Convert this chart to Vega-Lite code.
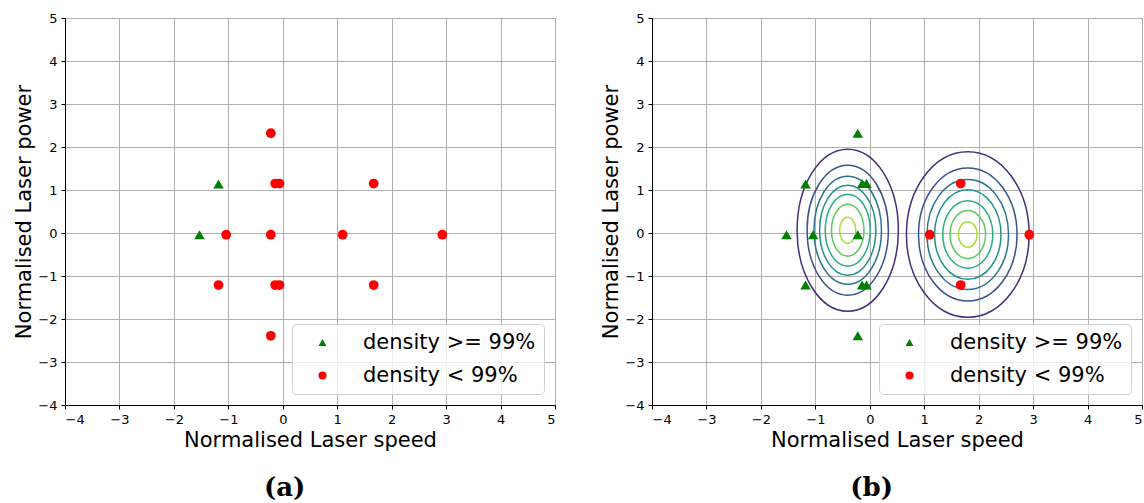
{
  "$schema": "https://vega.github.io/schema/vega-lite/v6.json",
  "padding": {"left": 13, "top": 11, "right": 0, "bottom": 0},
  "background": "white",
  "datasets": {
    "points": [
      {"panel": "a", "x": -0.22, "y": 2.32, "cls": "density < 99%"},
      {"panel": "a", "x": -1.18, "y": 1.14, "cls": "density >= 99%"},
      {"panel": "a", "x": -0.14, "y": 1.15, "cls": "density < 99%"},
      {"panel": "a", "x": -0.06, "y": 1.15, "cls": "density < 99%"},
      {"panel": "a", "x": 1.67, "y": 1.15, "cls": "density < 99%"},
      {"panel": "a", "x": -1.53, "y": -0.04, "cls": "density >= 99%"},
      {"panel": "a", "x": -1.04, "y": -0.04, "cls": "density < 99%"},
      {"panel": "a", "x": -0.22, "y": -0.04, "cls": "density < 99%"},
      {"panel": "a", "x": 1.1, "y": -0.04, "cls": "density < 99%"},
      {"panel": "a", "x": 2.93, "y": -0.04, "cls": "density < 99%"},
      {"panel": "a", "x": -1.18, "y": -1.21, "cls": "density < 99%"},
      {"panel": "a", "x": -0.14, "y": -1.21, "cls": "density < 99%"},
      {"panel": "a", "x": -0.06, "y": -1.21, "cls": "density < 99%"},
      {"panel": "a", "x": 1.67, "y": -1.21, "cls": "density < 99%"},
      {"panel": "a", "x": -0.22, "y": -2.39, "cls": "density < 99%"},
      {"panel": "b", "x": -0.22, "y": 2.32, "cls": "density >= 99%"},
      {"panel": "b", "x": -1.18, "y": 1.14, "cls": "density >= 99%"},
      {"panel": "b", "x": -0.14, "y": 1.15, "cls": "density >= 99%"},
      {"panel": "b", "x": -0.06, "y": 1.15, "cls": "density >= 99%"},
      {"panel": "b", "x": 1.67, "y": 1.15, "cls": "density < 99%"},
      {"panel": "b", "x": -1.53, "y": -0.04, "cls": "density >= 99%"},
      {"panel": "b", "x": -1.04, "y": -0.04, "cls": "density >= 99%"},
      {"panel": "b", "x": -0.22, "y": -0.04, "cls": "density >= 99%"},
      {"panel": "b", "x": 1.1, "y": -0.04, "cls": "density < 99%"},
      {"panel": "b", "x": 2.93, "y": -0.04, "cls": "density < 99%"},
      {"panel": "b", "x": -1.18, "y": -1.21, "cls": "density >= 99%"},
      {"panel": "b", "x": -0.14, "y": -1.21, "cls": "density >= 99%"},
      {"panel": "b", "x": -0.06, "y": -1.21, "cls": "density >= 99%"},
      {"panel": "b", "x": 1.67, "y": -1.21, "cls": "density < 99%"},
      {"panel": "b", "x": -0.22, "y": -2.39, "cls": "density >= 99%"}
    ],
    "contours": [
      {"family": "L", "cx": -0.405, "cy": 0.065, "ry": 1.884, "level": 1},
      {"family": "L", "cx": -0.405, "cy": 0.065, "ry": 1.512, "level": 2},
      {"family": "L", "cx": -0.405, "cy": 0.065, "ry": 1.256, "level": 3},
      {"family": "L", "cx": -0.405, "cy": 0.065, "ry": 1.047, "level": 4},
      {"family": "L", "cx": -0.405, "cy": 0.065, "ry": 0.837, "level": 5},
      {"family": "L", "cx": -0.405, "cy": 0.065, "ry": 0.605, "level": 6},
      {"family": "L", "cx": -0.405, "cy": 0.065, "ry": 0.302, "level": 7},
      {"family": "R", "cx": 1.8, "cy": -0.035, "ry": 1.926, "level": 1},
      {"family": "R", "cx": 1.8, "cy": -0.035, "ry": 1.547, "level": 2},
      {"family": "R", "cx": 1.8, "cy": -0.035, "ry": 1.279, "level": 3},
      {"family": "R", "cx": 1.8, "cy": -0.035, "ry": 1.042, "level": 4},
      {"family": "R", "cx": 1.8, "cy": -0.035, "ry": 0.786, "level": 5},
      {"family": "R", "cx": 1.8, "cy": -0.035, "ry": 0.558, "level": 6},
      {"family": "R", "cx": 1.8, "cy": -0.035, "ry": 0.295, "level": 7}
    ]
  },
  "config": {
    "view": {"stroke": "black", "strokeWidth": 1},
    "axis": {
      "labelFont": "DejaVu Sans", "labelFontSize": 13, "labelColor": "black", "format": "d",
      "titleFont": "DejaVu Sans", "titleFontSize": 21, "titleFontWeight": "normal", "titleColor": "black",
      "domainColor": "black", "tickColor": "black", "tickSize": 4, "labelPadding": 4, "titlePadding": 3,
      "gridColor": "#b0b0b0", "gridWidth": 1, "gridOpacity": 1
    },
    "legend": {
      "orient": "bottom-right", "offset": 11, "labelFont": "DejaVu Sans", "labelFontSize": 21, "labelColor": "black", "labelLimit": 400,
      "symbolSize": 64, "strokeColor": "#d0d0d0", "fillColor": "rgba(255,255,255,0.8)", "padding": 8,
      "cornerRadius": 4, "rowPadding": 11, "labelOffset": 30, "symbolOffset": 12, "symbolOpacity": 1
    },
    "title": {"font": "DejaVu Serif", "fontWeight": "bold", "fontSize": 26, "color": "black", "orient": "bottom", "anchor": "middle", "frame": "bounds", "offset": 25}
  },
  "spacing": 44,
  "resolve": {
    "scale": {"color": "independent", "shape": "independent"},
    "legend": {"color": "independent", "shape": "independent"}
  },
  "hconcat": [
    {
      "width": 490, "height": 387,
      "title": {"text": "(a)"},
      "layer": [
        {
          "data": {"name": "points"},
          "transform": [{"filter": "datum.panel === 'a' && datum.cls === 'density >= 99%'"}],
          "mark": {"type": "point", "filled": true, "opacity": 1, "size": 110},
          "encoding": {
            "x": {"field": "x", "type": "quantitative", "scale": {"domain": [-4, 5], "nice": false, "zero": false}, "axis": {"values": [-4, -3, -2, -1, 0, 1, 2, 3, 4, 5], "title": "Normalised Laser speed"}},
            "y": {"field": "y", "type": "quantitative", "scale": {"domain": [-4, 5], "nice": false, "zero": false}, "axis": {"values": [-4, -3, -2, -1, 0, 1, 2, 3, 4, 5], "title": "Normalised Laser power"}},
            "color": {"field": "cls", "type": "nominal", "scale": {"domain": ["density >= 99%", "density < 99%"], "range": ["#008000", "#ff0000"]}, "legend": {"title": null}},
            "shape": {"field": "cls", "type": "nominal", "scale": {"domain": ["density >= 99%", "density < 99%"], "range": ["triangle-up", "circle"]}, "legend": {"title": null}}
          }
        },
        {
          "data": {"name": "points"},
          "transform": [{"filter": "datum.panel === 'a' && datum.cls === 'density < 99%'"}],
          "mark": {"type": "point", "filled": true, "opacity": 1, "size": 95},
          "encoding": {
            "x": {"field": "x", "type": "quantitative"},
            "y": {"field": "y", "type": "quantitative"},
            "color": {"field": "cls", "type": "nominal"},
            "shape": {"field": "cls", "type": "nominal"}
          }
        }
      ]
    },
    {
      "width": 490, "height": 387,
      "title": {"text": "(b)"},
      "layer": [
        {
          "data": {"name": "contours"},
          "transform": [{"filter": "datum.family === 'L'"}],
          "mark": {"type": "point", "filled": false, "opacity": 1, "strokeWidth": 1.5,
            "shape": "M0,-1C0.3452,-1,0.625,-0.5523,0.625,0C0.625,0.5523,0.3452,1,0,1C-0.3452,1,-0.625,0.5523,-0.625,0C-0.625,-0.5523,-0.3452,-1,0,-1Z"},
          "encoding": {
            "x": {"field": "cx", "type": "quantitative", "scale": {"domain": [-4, 5], "nice": false, "zero": false}, "axis": {"values": [-4, -3, -2, -1, 0, 1, 2, 3, 4, 5], "title": "Normalised Laser speed"}},
            "y": {"field": "cy", "type": "quantitative", "scale": {"domain": [-4, 5], "nice": false, "zero": false}, "axis": {"values": [-4, -3, -2, -1, 0, 1, 2, 3, 4, 5], "title": "Normalised Laser power"}},
            "stroke": {"field": "level", "type": "quantitative", "scale": {"scheme": "viridis", "domain": [0, 8]}, "legend": null},
            "size": {"field": "ry", "type": "quantitative", "scale": {"type": "pow", "exponent": 2, "domain": [0, 2], "range": [0, 29584]}, "legend": null}
          }
        },
        {
          "data": {"name": "contours"},
          "transform": [{"filter": "datum.family === 'R'"}],
          "mark": {"type": "point", "filled": false, "opacity": 1, "strokeWidth": 1.5,
            "shape": "M0,-1C0.4091,-1,0.7407,-0.5523,0.7407,0C0.7407,0.5523,0.4091,1,0,1C-0.4091,1,-0.7407,0.5523,-0.7407,0C-0.7407,-0.5523,-0.4091,-1,0,-1Z"},
          "encoding": {
            "x": {"field": "cx", "type": "quantitative"},
            "y": {"field": "cy", "type": "quantitative"},
            "stroke": {"field": "level", "type": "quantitative", "legend": null},
            "size": {"field": "ry", "type": "quantitative", "legend": null}
          }
        },
        {
          "data": {"name": "points"},
          "transform": [{"filter": "datum.panel === 'b' && datum.cls === 'density >= 99%'"}],
          "mark": {"type": "point", "filled": true, "opacity": 1, "size": 110},
          "encoding": {
            "x": {"field": "x", "type": "quantitative"},
            "y": {"field": "y", "type": "quantitative"},
            "color": {"field": "cls", "type": "nominal", "scale": {"domain": ["density >= 99%", "density < 99%"], "range": ["#008000", "#ff0000"]}, "legend": {"title": null}},
            "shape": {"field": "cls", "type": "nominal", "scale": {"domain": ["density >= 99%", "density < 99%"], "range": ["triangle-up", "circle"]}, "legend": {"title": null}}
          }
        },
        {
          "data": {"name": "points"},
          "transform": [{"filter": "datum.panel === 'b' && datum.cls === 'density < 99%'"}],
          "mark": {"type": "point", "filled": true, "opacity": 1, "size": 95},
          "encoding": {
            "x": {"field": "x", "type": "quantitative"},
            "y": {"field": "y", "type": "quantitative"},
            "color": {"field": "cls", "type": "nominal"},
            "shape": {"field": "cls", "type": "nominal"}
          }
        }
      ]
    }
  ]
}
